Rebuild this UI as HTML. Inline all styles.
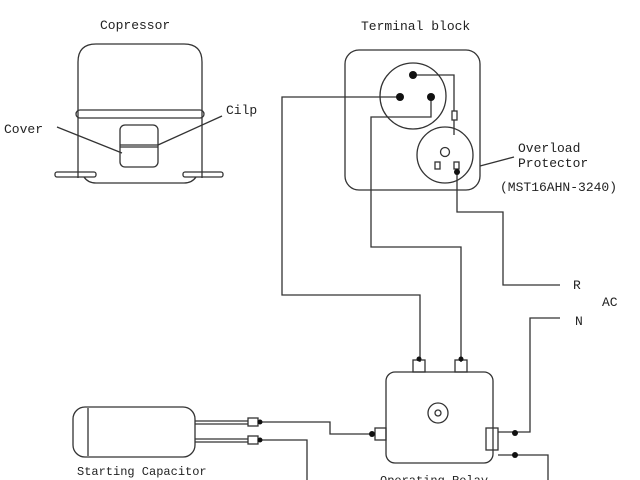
<!DOCTYPE html>
<html><head><meta charset="utf-8"><style>
html,body{margin:0;padding:0;background:#fff}
svg{display:block}
text{font-family:"Liberation Mono","DejaVu Sans Mono",monospace;fill:#222}
</style></head><body>
<svg width="640" height="480" viewBox="0 0 640 480" xmlns="http://www.w3.org/2000/svg">
<g fill="none" stroke="#333" stroke-width="1.3">
<!-- Compressor -->
<path d="M78 178 V62 Q78 44 96 44 H184 Q202 44 202 62 V178"/>
<rect x="76" y="110" width="128" height="8" rx="4"/>
<rect x="120" y="125" width="38" height="42" rx="5"/>
<line x1="120" y1="145" x2="158" y2="145"/>
<line x1="120" y1="147" x2="158" y2="147"/>
<rect x="55" y="172" width="41" height="5" rx="2"/>
<rect x="183" y="172" width="40" height="5" rx="2"/>
<path d="M84 177 Q88 183 96 183 H184 Q192 183 196 177"/>
<line x1="57" y1="127" x2="122" y2="153"/>
<line x1="222" y1="116" x2="158" y2="145"/>
<!-- Terminal block -->
<rect x="345" y="50" width="135" height="140" rx="14"/>
<circle cx="413" cy="96" r="33"/>
<circle cx="445" cy="155" r="28"/>
<circle cx="445" cy="152" r="4.5"/>
<rect x="435" y="162" width="5" height="7"/>
<rect x="454" y="162" width="5" height="7"/>
<rect x="452" y="111" width="5" height="9"/>
<!-- wires -->
<path d="M400 97 H282 V295 H420 V362"/>
<path d="M431 97 V117 H371 V247 H461 V362"/>
<path d="M413 75 H454 V111 M454 120 V135"/>
<path d="M457 172 V212 H503 V285 H560"/>
<path d="M560 318 H530 V432 H515"/>
<path d="M480 166 L514 157"/>
<!-- relay -->
<rect x="386" y="372" width="107" height="91" rx="9"/>
<rect x="413" y="360" width="12" height="12"/>
<rect x="455" y="360" width="12" height="12"/>
<circle cx="438" cy="413" r="10"/>
<circle cx="438" cy="413" r="3"/>
<rect x="375" y="428" width="11" height="12"/>
<rect x="486" y="428" width="12" height="22"/>
<path d="M498 432 H515 M498 455 H548 V480"/>
<!-- capacitor -->
<rect x="73" y="407" width="122" height="50" rx="12"/>
<line x1="88" y1="408" x2="88" y2="456"/>
<path d="M195 421 H248 M195 424 H248 M195 439 H248 M195 442 H248"/>
<rect x="248" y="418" width="10" height="8"/>
<rect x="248" y="436" width="10" height="8"/>
<path d="M260 422 H330 V434 H372"/>
<path d="M260 440 H307 V480"/>
</g>
<g fill="#111">
<circle cx="413" cy="75" r="4"/><circle cx="400" cy="97" r="4"/><circle cx="431" cy="97" r="4"/>
<circle cx="457" cy="172" r="3"/>
<circle cx="419" cy="359" r="2.5"/><circle cx="461" cy="359" r="2.5"/>
<circle cx="372" cy="434" r="3"/>
<circle cx="515" cy="433" r="3"/><circle cx="515" cy="455" r="3"/>
<circle cx="260" cy="422" r="2.5"/><circle cx="260" cy="440" r="2.5"/>
</g>
<text x="100" y="29" font-size="13">Copressor</text>
<text x="361" y="30" font-size="13">Terminal block</text>
<text x="4" y="133" font-size="13">Cover</text>
<text x="226" y="114" font-size="13">Cilp</text>
<text x="518" y="152" font-size="13">Overload</text>
<text x="518" y="167" font-size="13">Protector</text>
<text x="500" y="191" font-size="13">(MST16AHN-3240)</text>
<text x="573" y="289" font-size="13">R</text>
<text x="602" y="306" font-size="13">AC</text>
<text x="575" y="325" font-size="13">N</text>
<text x="77" y="475" font-size="12">Starting Capacitor</text>
<text x="380" y="484" font-size="12">Operating Relay</text>
</svg>
</body></html>
